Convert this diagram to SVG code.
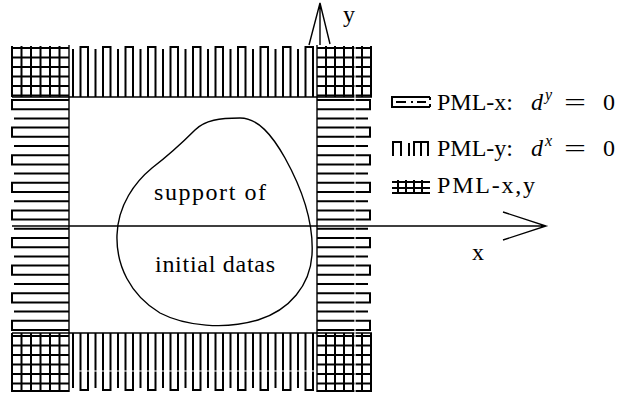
<svg xmlns="http://www.w3.org/2000/svg" width="621" height="396" viewBox="0 0 621 396">
<style>
.pat{fill:none;stroke:#000;stroke-width:2}
.thin{fill:none;stroke:#000;stroke-width:1.4}
.gap{fill:none;stroke:#fff;stroke-width:1.2}
.t{font-family:"Liberation Serif","Times New Roman",serif;font-size:24px;fill:#000}
.m{font-family:"Liberation Serif","Times New Roman",serif;font-style:italic;fill:#000}
</style>
<rect width="621" height="396" fill="#fff"/>
<g id="pml-y-top">
<path class="pat" d="M73 49V97 M80.5 97V47H88V97 M95.5 49V97 M103 97V47H110.5V97 M118 49V97 M125.5 97V47H133V97 M140.5 49V97 M148 97V47H155.5V97 M163 49V97 M170.5 97V47H178V97 M185.5 49V97 M193 97V47H200.5V97 M208 49V97 M215.5 97V47H223V97 M230.5 49V97 M238 97V47H245.5V97 M253 49V97 M260.5 97V47H268V97 M275.5 49V97 M283 97V47H290.5V97 M298 49V97 M305.5 97V47H313V97"/>
</g>
<g id="pml-y-bottom">
<path class="pat" d="M73 333V388 M80.5 333V390H88V333 M95.5 333V388 M103 333V390H110.5V333 M118 333V388 M125.5 333V390H133V333 M140.5 333V388 M148 333V390H155.5V333 M163 333V388 M170.5 333V390H178V333 M185.5 333V388 M193 333V390H200.5V333 M208 333V388 M215.5 333V390H223V333 M230.5 333V388 M238 333V390H245.5V333 M253 333V388 M260.5 333V390H268V333 M275.5 333V388 M283 333V390H290.5V333 M298 333V388 M305.5 333V390H313V333"/>
<path class="gap" d="M75 371H317"/>
</g>
<g id="pml-x-left">
<path class="pat" d="M69 100H12V109.2H69 M14 118.4H69 M69 127.6H12V136.8H69 M14 146H69 M69 155.2H12V164.4H69 M14 173.6H69 M69 182.8H12V192H69 M14 201.2H69 M69 210.4H12V219.6H69 M14 228.8H69 M69 238H12V247.2H69 M14 256.4H69 M69 265.6H12V274.8H69 M14 284H69 M69 293.2H12V302.4H69 M14 311.6H69 M69 320.8H12V330H69"/>
</g>
<g id="pml-x-right">
<path class="pat" d="M317 100H370V109.2H317 M317 118.4H368 M317 127.6H370V136.8H317 M317 146H368 M317 155.2H370V164.4H317 M317 173.6H368 M317 182.8H370V192H317 M317 201.2H368 M317 210.4H370V219.6H317 M317 228.8H368 M317 238H370V247.2H317 M317 256.4H368 M317 265.6H370V274.8H317 M317 284H368 M317 293.2H370V302.4H317 M317 311.6H368 M317 320.8H370V330H317"/>
</g>
<g id="pml-xy-corners">
<path class="pat" d="M12 46V97 M21.5 46V97 M31 46V97 M40.5 46V97 M50 46V97 M59.5 46V97 M12 48H69 M12 57.5H69 M12 67H69 M12 76.5H69 M12 86H69 M12 95.5H69"/>
<path class="pat" d="M326 46V97 M335 46V97 M344 46V97 M353 46V97 M362 46V97 M371 46V97 M317 48H371 M317 57.5H371 M317 67H371 M317 76.5H371 M317 86H371 M317 95.5H371"/>
<path class="pat" d="M12 333V392 M21.5 333V392 M31 333V392 M40.5 333V392 M50 333V392 M59.5 333V392 M12 336H69 M12 345.5H69 M12 355H69 M12 364.5H69 M12 374H69 M12 383.5H69 M12 391H69"/>
<path class="pat" d="M326 333V392 M335 333V392 M344 333V392 M353 333V392 M362 333V392 M371 333V392 M317 336H371 M317 345.5H371 M317 355H371 M317 364.5H371 M317 374H371 M317 383.5H371 M317 391H371"/>
</g>
<g id="domain">
<path class="thin" d="M69 45V392 M317 45V392 M12 97H372 M12 333H372"/>
<path class="gap" d="M355 45V392"/>
</g>
<g id="support">
<path class="thin" d="M240 118C220 118 205 120 195 130C180 145 165 158 152 168C135 182 118 205 117 235C116 265 130 295 160 313C185 326 225 330 258 320C290 310 310 285 312 255C314 220 300 185 285 158C272 135 258 118 240 118Z"/>
<text class="t" x="154" y="200" font-size="24" textLength="112">support of</text>
<text class="t" x="155" y="272" font-size="24" textLength="120">initial datas</text>
</g>
<g id="connectors">
<path class="thin" d="M12 226H546 M503 212L546 226L503 240"/>
<path class="thin" d="M320 45V3 M309 45L320 3L330 44"/>
</g>
<g id="axis-labels">
<text class="t" x="472" y="260">x</text>
<text class="t" x="343" y="22">y</text>
</g>
<g id="legend">
<g id="legend-pml-x">
<path class="pat" d="M430 97H392V107H430 M430 97V100 M430 107V104"/>
<path class="pat" d="M396 102H406 M411 102H413 M417 102H426" stroke-width="1.6"/>
<text class="t" x="437" y="110">PML-x:</text>
<text class="m" x="531" y="110" font-size="24">d</text>
<text class="m" x="545" y="100" font-size="16">y</text>
<text class="t" x="564" y="110" font-size="28" textLength="22" lengthAdjust="spacingAndGlyphs">=</text>
<text class="t" x="603" y="110">0</text>
</g>
<g id="legend-pml-y">
<path class="pat" d="M393 156V142H401V156 M409 143V156 M414 156V142H428V156 M421 143V156"/>
<text class="t" x="437" y="156">PML-y:</text>
<text class="m" x="531" y="156" font-size="24">d</text>
<text class="m" x="545" y="146" font-size="16">x</text>
<text class="t" x="564" y="156" font-size="28" textLength="22" lengthAdjust="spacingAndGlyphs">=</text>
<text class="t" x="603" y="156">0</text>
</g>
<g id="legend-pml-xy">
<path class="pat" d="M392 182H430 M392 188H430 M398 180V194 M406 180V194 M414 180V194 M422 180V194 M392 193H430"/>
<text class="t" x="437" y="193" textLength="98">PML-x,y</text>
</g>
</g>
</svg>
